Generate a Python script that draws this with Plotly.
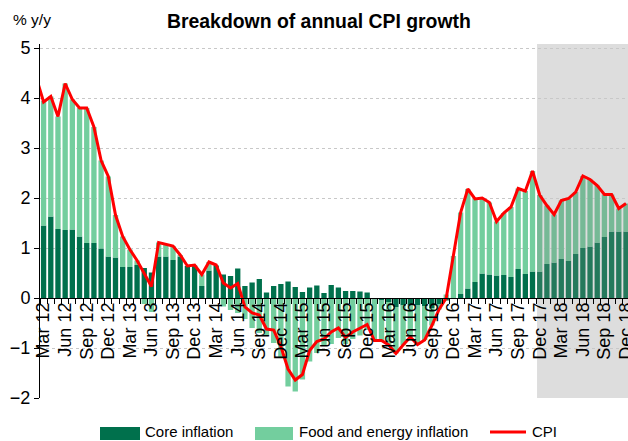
import plotly.graph_objects as go

MON = ["Jan", "Feb", "Mar", "Apr", "May", "Jun", "Jul", "Aug", "Sep", "Oct", "Nov", "Dec"]


def month_label(k):
    return f"{MON[k % 12]} {(2012 + k // 12) % 100:02d}"


# categories: Mar 12 .. Dec 18 (bars); CPI line data starts one month earlier (Feb 12)
months = [month_label(k) for k in range(2, 84)]
cpi_months = [month_label(k) for k in range(1, 84)]

core = [1.45, 1.63, 1.38, 1.36, 1.37, 1.23, 1.10, 1.10, 0.99, 0.83,
        0.81, 0.62, 0.62, 0.66, 0.60, 0.51, 0.83, 0.83, 0.76, 0.83, 0.64, 0.64,
        0.24, 0.55, 0.64, 0.47, 0.44, 0.59, 0.24, 0.31, 0.38, 0.11, 0.24, 0.28,
        0.33, 0.22, 0.12, 0.21, 0.25, 0.10, 0.26, 0.21, 0.14, 0.14, 0.13, 0.11,
        -0.03, -0.05, -0.08, -0.18, -0.15, -0.15, -0.15, -0.16, -0.20, -0.12, -0.05, 0.00,
        0.08, 0.19, 0.32, 0.49, 0.47, 0.45, 0.46, 0.42, 0.58, 0.48, 0.53, 0.53,
        0.68, 0.71, 0.78, 0.74, 0.88, 1.00, 1.03, 1.11, 1.22, 1.33, 1.33, 1.33]

food = [2.49, 2.40, 2.25, 2.93, 2.60, 2.57, 2.70, 2.32, 1.76, 1.60,
        0.85, 0.61, 0.35, 0.09, -0.12, -0.28, 0.28, 0.25, 0.28, 0.03, 0.00, 0.02,
        0.23, 0.17, 0.02, -0.17, -0.24, -0.30, -0.42, -0.60, -0.70, -0.76, -0.90, -1.20,
        -1.77, -1.87, -1.63, -1.27, -1.10, -0.95, -0.92, -0.80, -0.92, -0.82, -0.75, -0.64,
        -0.82, -0.80, -0.86, -0.93, -0.79, -0.63, -0.78, -0.68, -0.35, -0.11, 0.07, 0.84,
        1.63, 1.99, 1.66, 1.51, 1.44, 1.08, 1.24, 1.40, 1.61, 1.66, 2.01, 1.53,
        1.17, 0.96, 1.17, 1.25, 1.24, 1.44, 1.34, 1.14, 0.85, 0.74, 0.46, 0.56]

cpi = [4.40,
       3.92, 4.03, 3.63, 4.29, 3.97, 3.80, 3.80, 3.42, 2.75, 2.43,
       1.66, 1.23, 0.97, 0.75, 0.48, 0.23, 1.11, 1.08, 1.04, 0.86, 0.64, 0.66,
       0.47, 0.72, 0.66, 0.30, 0.20, 0.29, -0.18, -0.30, -0.34, -0.62, -0.64, -0.97,
       -1.42, -1.64, -1.53, -1.05, -0.87, -0.82, -0.68, -0.60, -0.79, -0.68, -0.61, -0.53,
       -0.85, -0.85, -0.94, -1.11, -0.94, -0.78, -0.93, -0.84, -0.55, -0.23, 0.00, 0.83,
       1.71, 2.18, 1.98, 2.00, 1.91, 1.53, 1.70, 1.82, 2.19, 2.14, 2.54, 2.06,
       1.85, 1.67, 1.95, 1.99, 2.12, 2.44, 2.37, 2.25, 2.07, 2.07, 1.79, 1.89]

y_ticks = [-2, -1, 0, 1, 2, 3, 4, 5]
forecast_from = "Dec 17"

# ---- geometry / style ----
W, H = 628, 441
ML, MR, MT, MB = 40, 0, 44, 43
Y_MIN, Y_MAX = -2, 5.08
BARGAP = 0.26
pos = {m: i for i, m in enumerate(months)}
xpos = list(range(len(months)))
cpi_x = [pos.get(m, -1) for m in cpi_months]
x_range = [-0.5, len(months) - 0.5 - 0.22]
fs = pos[forecast_from]

DARK, LIGHT = "#00704C", "#73CE9E"
DARK_F, LIGHT_F = "#24795C", "#76B996"
RED = "#FF0000"
FONT = "Liberation Sans, Arial, sans-serif"

pw = W - ML - MR
ph = H - MT - MB


def px(xp):
    return (xp - ML) / pw


def py(yp):
    return (H - MB - yp) / ph


fig = go.Figure()
fig.add_trace(go.Bar(x=xpos, y=core, name="Core inflation",
                     marker=dict(color=[DARK if i < fs else DARK_F for i in xpos], line_width=0)))
fig.add_trace(go.Bar(x=xpos, y=food, name="Food and energy inflation",
                     marker=dict(color=[LIGHT if i < fs else LIGHT_F for i in xpos], line_width=0)))
fig.add_trace(go.Scatter(x=cpi_x, y=cpi, name="CPI", mode="lines",
                         line=dict(color=RED, width=3)))
fig.add_trace(go.Scatter(x=[], y=[], xaxis="x2", showlegend=False, hoverinfo="skip"))

axis_pos = (0 - Y_MIN) / (Y_MAX - Y_MIN)
lab_idx = [i for i in xpos if i % 3 == 0]

shapes = [dict(type="rect", xref="x", yref="y domain", x0=fs - (1 - BARGAP) / 2, x1=x_range[1] + 1,
               y0=0, y1=1, fillcolor="#DDDDDD", line_width=0, layer="below")]
# custom legend
shapes += [
    dict(type="rect", xref="paper", yref="paper", x0=px(100), x1=px(140), y0=py(440), y1=py(427),
         fillcolor=DARK, line_width=0),
    dict(type="rect", xref="paper", yref="paper", x0=px(255), x1=px(293), y0=py(440), y1=py(427),
         fillcolor=LIGHT, line_width=0),
    dict(type="line", xref="paper", yref="paper", x0=px(490), x1=px(526), y0=py(432), y1=py(432),
         line=dict(color=RED, width=3)),
]

ann = [
    dict(text="<b>Breakdown of annual CPI growth</b>", x=px(319), y=py(21), xref="paper", yref="paper",
         showarrow=False, xanchor="center", yanchor="middle", font=dict(size=19.4, color="black")),
    dict(text="% y/y", x=px(11), y=py(19), xref="paper", yref="paper", showarrow=False,
         xanchor="left", yanchor="middle", font=dict(size=15.5, color="black")),
    dict(text="Core inflation", x=px(143), y=py(432), xref="paper", yref="paper", showarrow=False,
         xanchor="left", yanchor="middle", font=dict(size=15, color="black")),
    dict(text="Food and energy inflation", x=px(297), y=py(432), xref="paper", yref="paper",
         showarrow=False, xanchor="left", yanchor="middle", font=dict(size=15, color="black")),
    dict(text="CPI", x=px(530), y=py(432), xref="paper", yref="paper", showarrow=False,
         xanchor="left", yanchor="middle", font=dict(size=15, color="black")),
]

fig.update_layout(
    width=W, height=H, margin=dict(l=ML, r=MR, t=MT, b=MB, autoexpand=False),
    paper_bgcolor="white", plot_bgcolor="white",
    barmode="relative", bargap=BARGAP, showlegend=False,
    font=dict(family=FONT, size=16, color="black"),
    shapes=shapes, annotations=ann,
    xaxis=dict(range=x_range, tickmode="array", tickvals=lab_idx, automargin=False,
               ticktext=[months[i] for i in lab_idx], tickangle=-90, ticks="",
               ticklabeloverflow="allow",
               showline=False, showgrid=False, zeroline=False,
               anchor="free", position=axis_pos, tickfont=dict(size=18)),
    xaxis2=dict(range=x_range, overlaying="x", anchor="free", position=axis_pos, automargin=False,
                tickmode="array", tickvals=[i - 0.5 for i in range(len(months) + 1)],
                ticks="outside", ticklen=5, tickcolor="black", showticklabels=False,
                showline=True, linecolor="black", linewidth=1, showgrid=False, zeroline=False),
    yaxis=dict(range=[Y_MIN, Y_MAX], tickmode="array", tickvals=y_ticks, automargin=False,
               showgrid=True, gridcolor="#C8C8C8", griddash="dot", gridwidth=1,
               showline=True, linecolor="black", linewidth=1, ticks="outside", ticklen=5,
               tickcolor="black", zeroline=False, tickfont=dict(size=18)),
)

fig.write_html(
    "out.html",
    config={"displayModeBar": False, "staticPlot": True},
    post_script="document.body.style.margin='0';document.body.style.padding='0';"
                "document.body.style.overflow='hidden';",
)
